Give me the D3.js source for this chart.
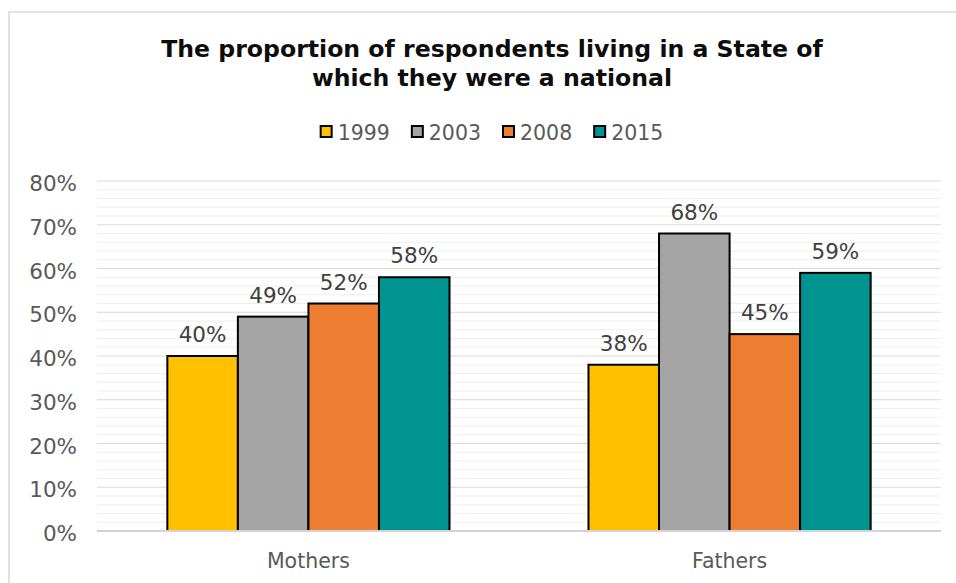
<!DOCTYPE html>
<html>
<head>
<meta charset="utf-8">
<script src="https://cdn.jsdelivr.net/npm/d3@7"></script>
<style>
  html, body { margin: 0; padding: 0; background: #ffffff; }
  svg { display: block; }
  text { font-family: "DejaVu Sans", Verdana, sans-serif; }
</style>
</head>
<body>
<script>
// ---- data ----
const categories = ["Mothers", "Fathers"];
const years = ["1999", "2003", "2008", "2015"];
const v1999 = [40, 38];
const v2003 = [49, 68];
const v2008 = [52, 45];
const v2015 = [58, 59];
const yTicks = [0, 10, 20, 30, 40, 50, 60, 70, 80];
const titleLines = ["The proportion of respondents living in a State of", "which they were a national"];
const colors = ["#FFC000", "#A5A5A5", "#ED7D31", "#009490"];

const seriesValues = [v1999, v2003, v2008, v2015];
const rows = categories.map((c, i) => ({
  cat: c,
  vals: years.map((y, j) => ({ year: y, value: seriesValues[j][i], color: colors[j] }))
}));

const W = 956, H = 583;
const svg = d3.select("body").append("svg").attr("width", W).attr("height", H);

// chart border
svg.append("rect").attr("x", 9).attr("y", 12).attr("width", 1000).attr("height", 700)
  .attr("fill", "#ffffff").attr("stroke", "#d9d9d9").attr("stroke-width", 1.5);

const plot = { left: 97, right: 941, top: 181, bottom: 531 };
const x0 = d3.scaleBand().domain(categories).range([plot.left, plot.right])
  .paddingInner(0.33).paddingOuter(0.167);
const x1 = d3.scaleBand().domain(years).range([0, x0.bandwidth()]).padding(0);
const y = d3.scaleLinear().domain([0, 80]).range([plot.bottom, plot.top]);

// minor gridlines
const minor = d3.range(0, 80.001, 2).filter(v => v % 10 !== 0);
svg.append("g").selectAll("line").data(minor).join("line")
  .attr("x1", plot.left).attr("x2", plot.right)
  .attr("y1", d => y(d)).attr("y2", d => y(d))
  .attr("stroke", "#eeeeee").attr("stroke-width", 1.2);

// major gridlines
svg.append("g").selectAll("line").data(yTicks.filter(d => d > 0)).join("line")
  .attr("x1", plot.left).attr("x2", plot.right)
  .attr("y1", d => y(d)).attr("y2", d => y(d))
  .attr("stroke", "#d9d9d9").attr("stroke-width", 1.2);

// y axis labels
const yAxis = d3.axisLeft(y).tickValues(yTicks).tickFormat(d => d + "%").tickSize(0).tickPadding(20);
const ya = svg.append("g").attr("transform", `translate(${plot.left},0)`).call(yAxis);
ya.select(".domain").remove();
ya.selectAll("text").attr("font-size", 21.5).attr("fill", "#595959")
  .attr("font-family", "DejaVu Sans, Verdana, sans-serif").attr("dy", "0.45em");

// bars
const groups = svg.append("g").selectAll("g").data(rows).join("g")
  .attr("transform", d => `translate(${x0(d.cat)},0)`);
groups.selectAll("rect").data(d => d.vals).join("rect")
  .attr("x", d => x1(d.year)).attr("width", x1.bandwidth())
  .attr("y", d => y(d.value)).attr("height", d => y(0) - y(d.value))
  .attr("fill", d => d.color).attr("stroke", "#000").attr("stroke-width", 2);
groups.selectAll("text").data(d => d.vals).join("text")
  .attr("x", d => x1(d.year) + x1.bandwidth() / 2)
  .attr("y", d => y(d.value) - 14)
  .attr("text-anchor", "middle").attr("font-size", 21.5).attr("fill", "#404040")
  .text(d => d.value + "%");

// x axis baseline
svg.append("line").attr("x1", plot.left).attr("x2", plot.right)
  .attr("y1", y(0)).attr("y2", y(0)).attr("stroke", "#d4d4d4").attr("stroke-width", 2);

// x axis labels
const xAxis = d3.axisBottom(x0).tickSize(0).tickPadding(0);
const xa = svg.append("g").attr("transform", `translate(0,${plot.bottom})`).call(xAxis);
xa.select(".domain").remove();
xa.selectAll("text").attr("font-size", 20.5).attr("fill", "#595959")
  .attr("font-family", "DejaVu Sans, Verdana, sans-serif")
  .attr("dy", null).attr("y", 37);

// title
const cx = 492;
const title = svg.append("text").attr("text-anchor", "middle")
  .attr("font-size", 23.6).attr("font-weight", "bold").attr("fill", "#0d0d0d");
titleLines.forEach((t, i) => {
  title.append("tspan").attr("x", cx).attr("y", 57 + i * 29).text(t);
});

// legend
const leg = svg.append("g");
const items = leg.selectAll("g").data(years).join("g");
items.append("rect").attr("x", 0).attr("y", 126).attr("width", 11).attr("height", 11)
  .attr("fill", (d, i) => colors[i]).attr("stroke", "#000").attr("stroke-width", 2);
items.append("text").attr("x", 17).attr("y", 139.5).attr("font-size", 20.5).attr("fill", "#595959")
  .text(d => d);
let widths = [];
items.each(function() { widths.push(this.getBBox().width); });
const gap = 22;
const total = d3.sum(widths) + gap * (widths.length - 1);
let cur = cx - total / 2;
items.attr("transform", (d, i) => { const t = `translate(${cur},0)`; cur += widths[i] + gap; return t; });
</script>
</body>
</html>
